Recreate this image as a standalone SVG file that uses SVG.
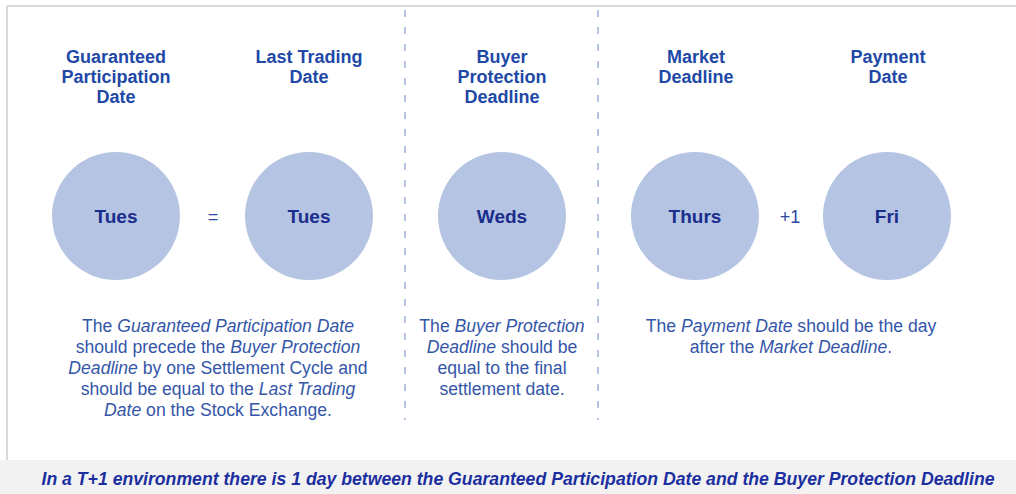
<svg xmlns="http://www.w3.org/2000/svg" width="1016" height="494" viewBox="0 0 1016 494">
<style>
.hdr{font-family:"Liberation Sans",Arial,sans-serif;font-weight:bold;font-size:18px;fill:#2148a6;text-anchor:middle}
.day{font-family:"Liberation Sans",Arial,sans-serif;font-weight:bold;font-size:19px;fill:#1b2d8c;text-anchor:middle}
.op{font-family:"Liberation Sans",Arial,sans-serif;font-size:18px;fill:#2c4aa0;text-anchor:middle}
.body{font-family:"Liberation Sans",Arial,sans-serif;font-size:17.6px;fill:#3456a8;text-anchor:middle}
.it{font-style:italic}
.circ{fill:#b4c4e2}
.sep{stroke:#b4c4e2;stroke-width:2;stroke-dasharray:7 10;fill:none}
.foot{font-family:"Liberation Sans",Arial,sans-serif;font-weight:bold;font-style:italic;font-size:18px;fill:#1b2fa0;text-anchor:middle}
</style>
<rect x="0" y="0" width="1016" height="494" fill="#ffffff"/>
<g id="frame">
<line x1="7" y1="6" x2="1016" y2="6" stroke="#d9d9d9" stroke-width="2"/>
<line x1="7" y1="6" x2="7" y2="460" stroke="#d9d9d9" stroke-width="2"/>
<rect x="0" y="460" width="1016" height="34" fill="#f2f2f2"/>
</g>
<g id="connectors">
<line class="sep" x1="405" y1="10" x2="405" y2="420"/>
<line class="sep" x1="598" y1="10" x2="598" y2="420"/>
<text class="op" x="213" y="223">=</text>
<text class="op" x="790" y="223">+1</text>
</g>
<g id="node-gpd">
<text class="hdr" x="116" y="63">Guaranteed</text>
<text class="hdr" x="116" y="83">Participation</text>
<text class="hdr" x="116" y="103">Date</text>
<circle class="circ" cx="116" cy="216" r="64"/>
<text class="day" x="116" y="223">Tues</text>
</g>
<g id="node-ltd">
<text class="hdr" x="309" y="63">Last Trading</text>
<text class="hdr" x="309" y="83">Date</text>
<circle class="circ" cx="309" cy="216" r="64"/>
<text class="day" x="309" y="223">Tues</text>
</g>
<g id="node-bpd">
<text class="hdr" x="502" y="63">Buyer</text>
<text class="hdr" x="502" y="83">Protection</text>
<text class="hdr" x="502" y="103">Deadline</text>
<circle class="circ" cx="502" cy="216" r="64"/>
<text class="day" x="502" y="223">Weds</text>
</g>
<g id="node-md">
<text class="hdr" x="696" y="63">Market</text>
<text class="hdr" x="696" y="83">Deadline</text>
<circle class="circ" cx="695" cy="216" r="64"/>
<text class="day" x="695" y="223">Thurs</text>
</g>
<g id="node-pd">
<text class="hdr" x="888" y="63">Payment</text>
<text class="hdr" x="888" y="83">Date</text>
<circle class="circ" cx="887" cy="216" r="64"/>
<text class="day" x="887" y="223">Fri</text>
</g>
<g id="note-1">
<text class="body" x="218" y="332">The <tspan class="it">Guaranteed Participation Date</tspan></text>
<text class="body" x="218" y="353">should precede the <tspan class="it">Buyer Protection</tspan></text>
<text class="body" x="218" y="374"><tspan class="it">Deadline</tspan> by one Settlement Cycle and</text>
<text class="body" x="218" y="395">should be equal to the <tspan class="it">Last Trading</tspan></text>
<text class="body" x="218" y="416"><tspan class="it">Date</tspan> on the Stock Exchange.</text>
</g>
<g id="note-2">
<text class="body" x="502" y="332">The <tspan class="it">Buyer Protection</tspan></text>
<text class="body" x="502" y="353"><tspan class="it">Deadline</tspan> should be</text>
<text class="body" x="502" y="374">equal to the final</text>
<text class="body" x="502" y="395">settlement date.</text>
</g>
<g id="note-3">
<text class="body" x="791" y="332">The <tspan class="it">Payment Date</tspan> should be the day</text>
<text class="body" x="791" y="353">after the <tspan class="it">Market Deadline</tspan>.</text>
</g>
<g id="footer">
<text class="foot" x="518" y="485" textLength="953" lengthAdjust="spacingAndGlyphs">In a T+1 environment there is 1 day between the Guaranteed Participation Date and the Buyer Protection Deadline</text>
</g>
</svg>
